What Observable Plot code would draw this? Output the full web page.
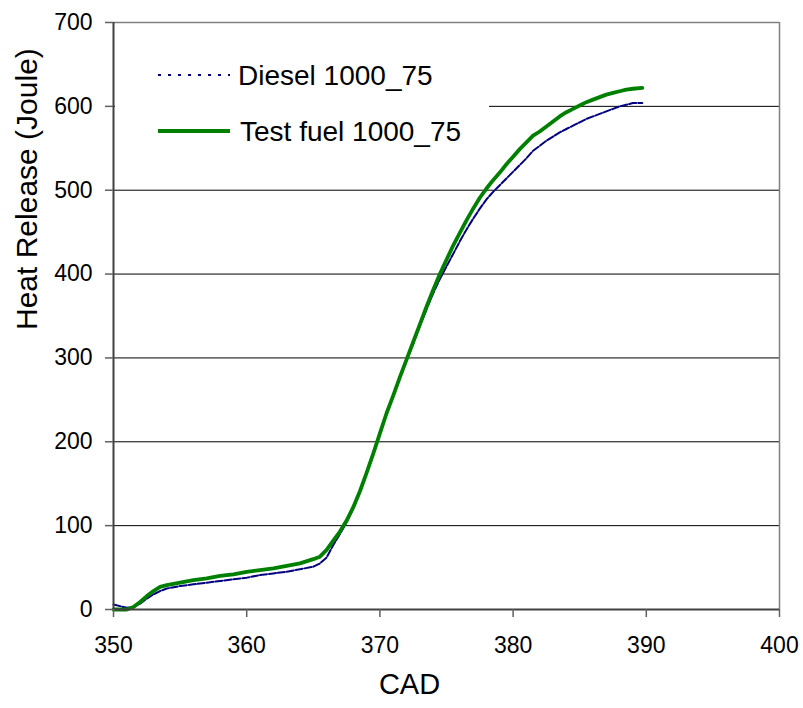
<!DOCTYPE html>
<html>
<head>
<meta charset="utf-8">
<script src="https://cdn.jsdelivr.net/npm/d3@7"></script>
<script src="https://cdn.jsdelivr.net/npm/@observablehq/plot@0.6"></script>
<style>
  body { margin: 0; background: #fff; }
  #chart { position: relative; width: 803px; height: 708px; font-family: "Liberation Sans", Arial, sans-serif; }
  #legend { position: absolute; left: 0; top: 0; }
</style>
</head>
<body>
<div id="chart"></div>
<script>
// Crank angle (degrees) at which both heat-release curves are sampled
const cad = [350, 350.5, 351, 351.5, 352, 352.5, 353, 353.5, 354, 355, 356, 357, 358, 359, 360,
  361, 362, 363, 364, 365, 365.5, 366, 366.5, 367, 367.5, 368, 368.5, 369, 369.5, 370,
  370.5, 371, 371.5, 372, 372.5, 373, 373.5, 374, 374.5, 375, 375.5, 376, 376.5, 377, 377.5,
  378, 378.5, 379, 379.5, 380, 380.5, 381, 381.5, 382, 382.5, 383, 383.5, 384, 384.5, 385,
  385.5, 386, 386.5, 387, 387.5, 388, 388.5, 389, 389.7];

// Cumulative heat release (Joule), diesel at 1000 rpm / 75 % load
const dieselHeat = [6, 4, 2, 3, 7, 13, 18, 22, 25, 28, 30, 32, 34, 36, 38,
  41, 43, 45, 48, 51, 55, 62, 77, 90, 104, 120, 140, 162, 186, 210,
  234, 255, 276, 297, 317, 338, 358, 377, 394, 409, 424, 439, 453, 466, 478,
  489, 498, 506, 514, 522, 530, 538, 547, 553, 559, 564, 569, 573, 577, 581,
  585, 588, 591, 594, 597, 600, 602, 604, 604];

// Cumulative heat release (Joule), test fuel at 1000 rpm / 75 % load
const testHeat = [0, 0, 0, 3, 9, 16, 22, 27, 29, 32, 35, 37, 40, 42, 45,
  47, 49, 52, 55, 60, 63, 71, 82, 93, 106, 122, 141, 163, 186, 210,
  234, 255, 277, 298, 319, 340, 361, 381, 400, 417, 434, 449, 464, 478, 491,
  502, 512, 521, 531, 540, 549, 557, 565, 570, 576, 582, 588, 593, 597, 601,
  605, 608, 611, 614, 616, 618, 620, 621, 622];

const xTicks = [350, 360, 370, 380, 390, 400];
const yTicks = [0, 100, 200, 300, 400, 500, 600, 700];
const gridValues = [100, 200, 300, 400, 500, 600];

const seriesNames = ["Diesel 1000_75", "Test fuel 1000_75"];
const seriesColors = ["#000080", "#008000"];

const diesel = cad.map((c, i) => ({cad: c, heat: dieselHeat[i]}));
const test = cad.map((c, i) => ({cad: c, heat: testHeat[i]}));

const font = '"Liberation Sans", Arial, sans-serif';

const chart = Plot.plot({
  width: 803,
  height: 708,
  marginLeft: 113,
  marginRight: 24,
  marginTop: 22,
  marginBottom: 99,
  style: {fontFamily: font, background: "#fff", color: "#000", overflow: "visible"},
  x: {domain: [350, 400], axis: null},
  y: {domain: [0, 700], axis: null},
  marks: [
    Plot.ruleY(gridValues, {stroke: "#000", strokeWidth: 1}),
    Plot.ruleY([700], {stroke: "#808080", strokeWidth: 1.5}),
    Plot.ruleX([400], {stroke: "#808080", strokeWidth: 1.5}),
    Plot.line(diesel, {x: "cad", y: "heat", stroke: seriesColors[0], strokeWidth: 2, strokeDasharray: "7,2"}),
    Plot.line(test, {x: "cad", y: "heat", stroke: seriesColors[1], strokeWidth: 3.8}),
    Plot.ruleY([0], {stroke: "#404040", strokeWidth: 2}),
    Plot.ruleX([350], {stroke: "#404040", strokeWidth: 2}),
    Plot.axisX(xTicks, {anchor: "bottom", tickSize: 8, tickPadding: 19, fontSize: 23, label: null,
      stroke: "#606060", strokeWidth: 1.5, fill: "#000"}),
    Plot.axisY(yTicks, {anchor: "left", tickSize: 8, tickPadding: 13, fontSize: 23, label: null,
      stroke: "#606060", strokeWidth: 1.5, fill: "#000"}),
    Plot.text(["CAD"], {frameAnchor: "bottom", dx: -37, dy: 84, fontSize: 29, fill: "#000"}),
    Plot.text(["Heat Release (Joule)"], {frameAnchor: "left", rotate: -90, dx: -86, dy: 14, fontSize: 30, fill: "#000"})
  ]
});

const root = document.getElementById("chart");
root.appendChild(chart);

// Legend drawn on a white panel over the upper-left part of the plot area,
// leaving the left axis line visible
const legend = d3.select(root).append("svg")
  .attr("id", "legend")
  .attr("width", 803)
  .attr("height", 708)
  .style("pointer-events", "none");

legend.append("rect")
  .attr("x", 115).attr("y", 42).attr("width", 374).attr("height", 122)
  .attr("fill", "#fff");

const legendRows = [
  {name: seriesNames[0], color: seriesColors[0], width: 2, dash: "3,7", y: 75, tx: 238},
  {name: seriesNames[1], color: seriesColors[1], width: 4, dash: null, y: 131, tx: 240}
];

const row = legend.selectAll("g.row").data(legendRows).join("g").attr("class", "row");
row.append("line")
  .attr("x1", 158).attr("x2", 230)
  .attr("y1", d => d.y).attr("y2", d => d.y)
  .attr("stroke", d => d.color)
  .attr("stroke-width", d => d.width)
  .attr("stroke-dasharray", d => d.dash);
row.append("text")
  .attr("x", d => d.tx)
  .attr("y", d => d.y + 10)
  .attr("font-family", font)
  .attr("font-size", 28)
  .attr("fill", "#000")
  .text(d => d.name);
</script>
</body>
</html>
